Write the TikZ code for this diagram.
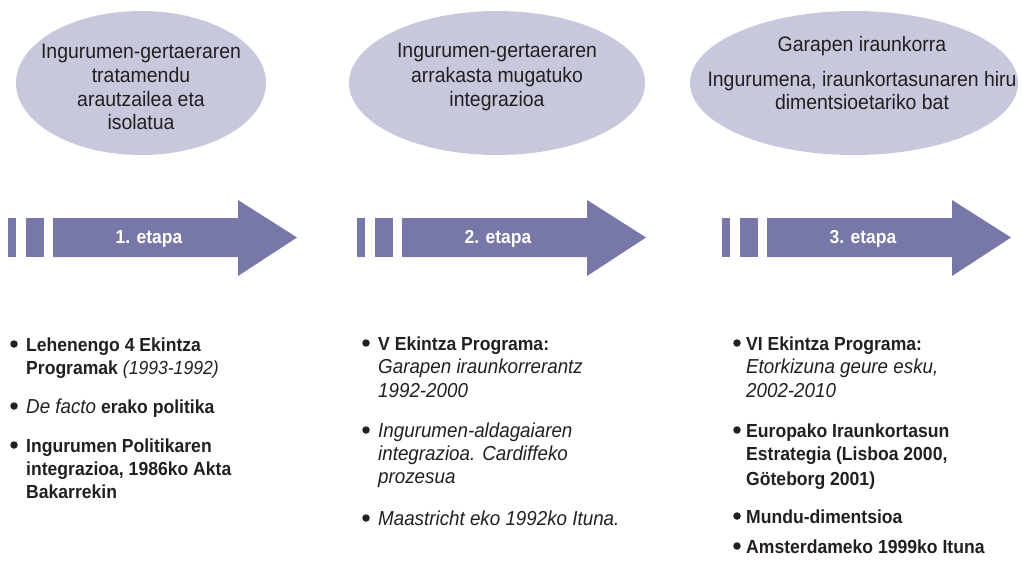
\documentclass[tikz,border=0pt]{standalone}
\usepackage{fontspec}
\setmainfont{Liberation Sans}[FakeStretch=0.93]
\usetikzlibrary{shapes.geometric}
\definecolor{arrowc}{RGB}{119,119,168}
\definecolor{ellc}{RGB}{200,200,221}
\definecolor{txt}{RGB}{35,31,32}
\newcommand\itx[1]{{\fontsize{20.2}{22}\selectfont\itshape #1}}
\begin{document}
\begin{tikzpicture}[x=1pt,y=-1pt,
 ell/.style={ellipse, fill=ellc, draw=none, inner sep=0pt},
 etext/.style={anchor=base, inner sep=0pt, text=txt, font=\fontsize{20.9}{24}\selectfont},
 lbl/.style={anchor=base, inner sep=0pt, text=white, font=\bfseries\fontsize{18.8}{21}\selectfont},
 li/.style={anchor=base west, inner sep=0pt, text=txt, font=\fontsize{18.9}{22}\selectfont},
 bul/.style={circle, fill=txt, minimum size=7.5pt, inner sep=0pt},
]
\useasboundingbox (0,0) rectangle (1022,564);
% ellipses
\node[ell, minimum width=250pt, minimum height=144pt] (e1) at (141,83) {};
\node[ell, minimum width=296pt, minimum height=144pt] (e2) at (497,83) {};
\node[ell, minimum width=328pt, minimum height=144pt] (e3) at (854,83) {};
\node[etext] (e1a) at (141,59) {Ingurumen-gertaeraren};
\node[etext] (e1b) at (141,83) {tratamendu};
\node[etext] (e1c) at (141,107) {arautzailea eta};
\node[etext] (e1d) at (141,130) {isolatua};
\node[etext] (e2a) at (497,58) {Ingurumen-gertaeraren};
\node[etext] (e2b) at (497,83) {arrakasta mugatuko};
\node[etext] (e2c) at (497,107) {integrazioa};
\node[etext] (e3a) at (862,52) {Garapen iraunkorra};
\node[etext] (e3b) at (862,87) {Ingurumena, iraunkortasunaren hiru};
\node[etext] (e3c) at (862,110) {dimentsioetariko bat};
% arrows
\foreach \dx/\lab in {0/1, 349/2, 714/3}{
  \fill[arrowc] ({8+\dx},218) rectangle ({16+\dx},257);
  \fill[arrowc] ({26+\dx},218) rectangle ({44+\dx},257);
  \fill[arrowc] ({53+\dx},218) -- ({238+\dx},218) -- ({238+\dx},200) -- ({297+\dx},237.5)
     -- ({238+\dx},276) -- ({238+\dx},257) -- ({53+\dx},257) -- cycle;
  \node[lbl] (s\lab) at ({149+\dx},243) {\lab. etapa};
}
% list 1
\node[bul] (b1) at (14,344) {};
\node[li] (l1a) at (26,351) {\textbf{Lehenengo 4 Ekintza}};
\node[li] (l1b) at (26,374) {\textbf{Programak} \textit{(1993-1992)}};
\node[bul] (b2) at (14,406) {};
\node[li] (l1c) at (26,413) {\itx{De facto} \textbf{erako politika}};
\node[bul] (b3) at (14,445) {};
\node[li] (l1d) at (26,452) {\textbf{Ingurumen Politikaren}};
\node[li] (l1e) at (26,475) {\textbf{integrazioa, 1986ko Akta}};
\node[li] (l1f) at (26,498) {\textbf{Bakarrekin}};
% list 2
\node[bul] (b4) at (366,343) {};
\node[li] (l2a) at (378,350) {\textbf{V Ekintza Programa:}};
\node[li] (l2b) at (378,373) {\itx{Garapen iraunkorrerantz}};
\node[li] (l2c) at (378,397) {\itx{1992-2000}};
\node[bul] (b5) at (366,430) {};
\node[li] (l2d) at (378,437) {\itx{Ingurumen-aldagaiaren}};
\node[li] (l2e) at (378,460) {\itx{integrazioa. Cardiffeko}};
\node[li] (l2f) at (378,483) {\itx{prozesua}};
\node[bul] (b6) at (366,518) {};
\node[li] (l2g) at (378,525) {\itx{Maastricht eko 1992ko Ituna.}};
% list 3
\node[bul] (b7) at (737,343) {};
\node[li] (l3a) at (746,350) {\textbf{VI Ekintza Programa:}};
\node[li] (l3b) at (746,373) {\itx{Etorkizuna geure esku,}};
\node[li] (l3c) at (746,397) {\itx{2002-2010}};
\node[bul] (b8) at (737,430) {};
\node[li] (l3d) at (746,437) {\textbf{Europako Iraunkortasun}};
\node[li] (l3e) at (746,460) {\textbf{Estrategia (Lisboa 2000,}};
\node[li] (l3f) at (746,485) {\textbf{Göteborg 2001)}};
\node[bul] (b9) at (737,516) {};
\node[li] (l3g) at (746,523) {\textbf{Mundu-dimentsioa}};
\node[bul] (b10) at (737,546) {};
\node[li] (l3h) at (746,553) {\textbf{Amsterdameko 1999ko Ituna}};
\end{tikzpicture}
\end{document}
